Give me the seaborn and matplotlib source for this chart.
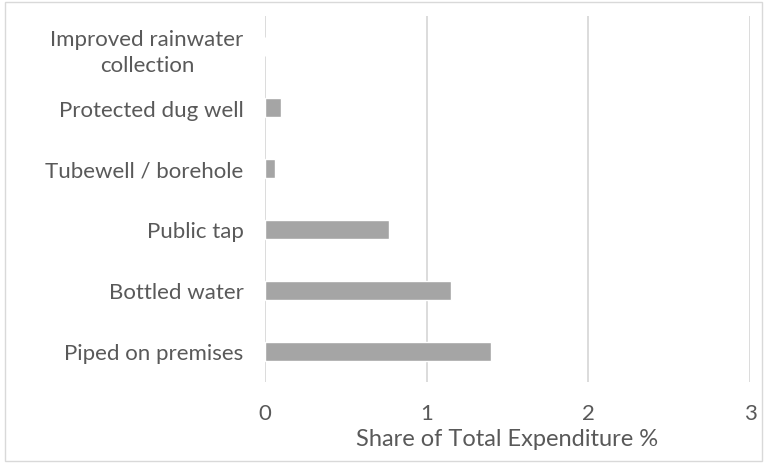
import matplotlib
matplotlib.use("Agg")
import matplotlib.pyplot as plt
import matplotlib.patches as mpatches
import seaborn as sns
import pandas as pd

# Water source categories (top to bottom) and their share of total expenditure
sources = [
    "Improved rainwater\ncollection",
    "Protected dug well",
    "Tubewell / borehole",
    "Public tap",
    "Bottled water",
    "Piped on premises",
]
share = [0.0, 0.10, 0.06, 0.77, 1.15, 1.40]
x_ticks = [0, 1, 2, 3]

df = pd.DataFrame({"source": sources, "share": share})

sns.set_theme(style="white")
plt.rcParams["font.family"] = ["Lato", "DejaVu Sans"]

text_col = "#595959"
fig = plt.figure(figsize=(7.73, 4.64), dpi=100)
ax = fig.add_axes([0.3428, 0.1756, 0.6274, 0.7867])

sns.barplot(data=df, x="share", y="source", orient="h", color="#a5a5a5",
            saturation=1, width=0.31, ax=ax, zorder=3)

ax.set_xlim(0, 3)
ax.set_xticks(x_ticks)
ax.set_xticklabels([str(t) for t in x_ticks])
ax.grid(axis="x", color="#d9d9d9", linewidth=1.3, zorder=0)
ax.set_axisbelow(True)
for s in ax.spines.values():
    s.set_visible(False)
ax.tick_params(axis="both", length=0, labelsize=16, colors=text_col)
ax.tick_params(axis="y", pad=15.5)
ax.tick_params(axis="x", pad=15.5)
for lbl in ax.get_yticklabels():
    lbl.set_multialignment("center")
    lbl.set_linespacing(1.35)
ax.set_ylabel("")
ax.set_xlabel("Share of Total Expenditure %", fontsize=17, color=text_col, labelpad=3.5)

# thin frame around the whole chart area
fig.patches.append(mpatches.Rectangle((5 / 773, 2 / 464), 757 / 773, 459 / 464,
                                      transform=fig.transFigure, fill=False,
                                      edgecolor="#d9d9d9", linewidth=1.0))

fig.savefig("out.png", dpi=100)
